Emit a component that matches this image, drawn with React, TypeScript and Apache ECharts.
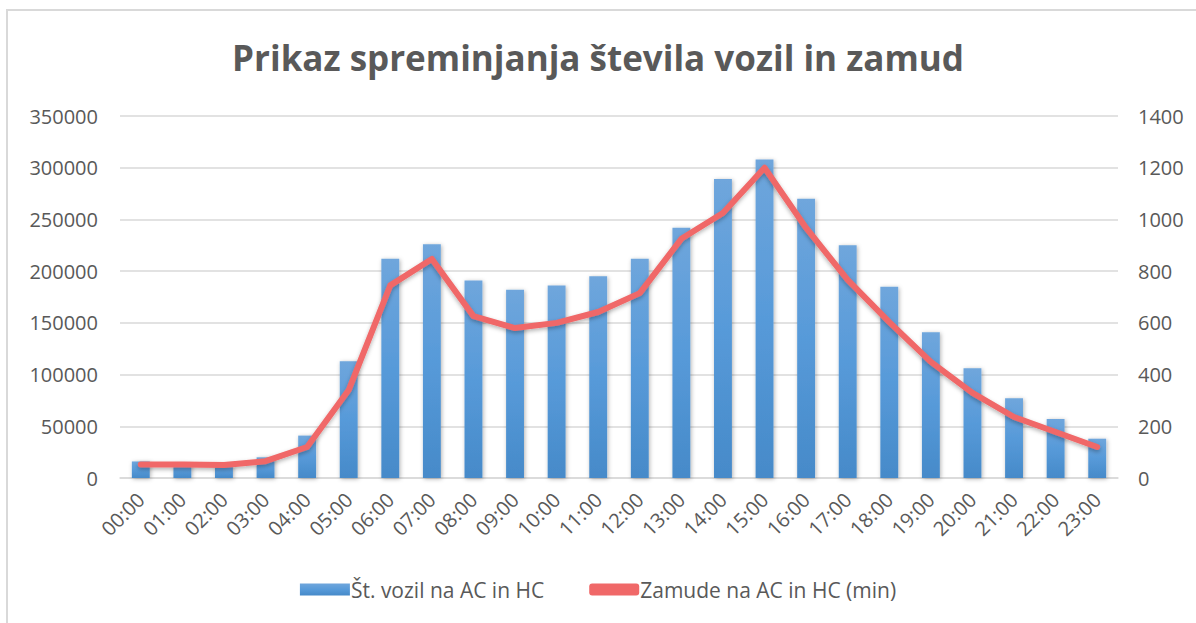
import React, { useEffect, useRef } from "react";
import * as echarts from "echarts";

const hours = ["00:00","01:00","02:00","03:00","04:00","05:00","06:00","07:00","08:00","09:00","10:00","11:00","12:00","13:00","14:00","15:00","16:00","17:00","18:00","19:00","20:00","21:00","22:00","23:00"];
const vehicles = [16000,14000,13000,20000,41000,113000,212000,226000,191000,182000,186000,195000,212000,242000,289000,308000,270000,225000,185000,141000,106000,77000,57000,38000];
const delays = [52,52,50,65,120,340,745,847,626,580,600,642,715,925,1025,1200,967,766,603,449,329,236,178,120];

const titleText = "Prikaz spreminjanja števila vozil in zamud";
const barName = "Št. vozil na AC in HC";
const lineName = "Zamude na AC in HC (min)";

const FONT = "'Open Sans', 'Noto Sans', sans-serif";
const TXT = "#595959";

export default function App() {
  const ref = useRef<HTMLDivElement>(null);
  useEffect(() => {
    document.body.style.margin = "0";
    const chart = echarts.init(ref.current!, null, { renderer: "svg" });
    chart.setOption({
      animation: false,
      backgroundColor: "#ffffff",
      textStyle: { fontFamily: FONT },
      title: {
        text: titleText,
        left: "center",
        top: 35,
        textStyle: { fontFamily: FONT, fontSize: 35, fontWeight: "bold", color: TXT },
      },
      graphic: [
        {
          type: "rect",
          shape: { x: 7, y: 10, width: 1300, height: 700 },
          style: { fill: "none", stroke: "#d9d9d9", lineWidth: 2 },
          silent: true,
          z: -1,
        },
      ],
      legend: {
        bottom: 18,
        left: "center",
        itemGap: 45,
        itemWidth: 50,
        itemHeight: 12,
        textStyle: { fontFamily: FONT, fontSize: 21, color: TXT, padding: [0, 0, 0, -4] },
        data: [
          { name: barName, icon: "rect" },
          { name: lineName, icon: "roundRect" },
        ],
      },
      grid: { left: 120, right: 78, top: 116, bottom: 145 },
      xAxis: {
        type: "category",
        data: hours,
        axisTick: { show: false },
        axisLine: { lineStyle: { color: "#d9d9d9", width: 1.5 } },
        axisLabel: { rotate: 45, fontSize: 20, color: TXT, fontFamily: FONT, margin: 18 },
      },
      yAxis: [
        {
          type: "value",
          min: 0,
          max: 350000,
          interval: 50000,
          axisLine: { show: false },
          axisTick: { show: false },
          splitLine: { lineStyle: { color: "#d9d9d9", width: 1.5 } },
          axisLabel: { fontSize: 20, color: TXT, fontFamily: FONT, margin: 22, formatter: (v: number) => String(v) },
        },
        {
          type: "value",
          min: 0,
          max: 1400,
          interval: 200,
          position: "right",
          axisLine: { show: false },
          axisTick: { show: false },
          splitLine: { show: false },
          axisLabel: { fontSize: 20, color: TXT, fontFamily: FONT, margin: 20, formatter: (v: number) => String(v) },
        },
      ],
      series: [
        {
          name: barName,
          type: "bar",
          data: vehicles,
          barWidth: "43%",
          yAxisIndex: 0,
          itemStyle: {
            color: new echarts.graphic.LinearGradient(0, 0, 0, 1, [
              { offset: 0, color: "#6fa6dc" },
              { offset: 0.5, color: "#579ad9" },
              { offset: 1, color: "#468ac9" },
            ]),
            shadowBlur: 4,
            shadowColor: "rgba(0,0,0,0.3)",
            shadowOffsetX: 1,
            shadowOffsetY: 1,
          },
        },
        {
          name: lineName,
          type: "line",
          data: delays,
          yAxisIndex: 1,
          symbol: "none",
          smooth: false,
          lineStyle: {
            color: "#f06868",
            width: 6,
            cap: "round",
            join: "round",
            shadowBlur: 4,
            shadowColor: "rgba(0,0,0,0.3)",
            shadowOffsetY: 2,
          },
          itemStyle: { color: "#f06868" },
        },
      ],
    });
    return () => chart.dispose();
  }, []);
  return <div ref={ref} style={{ width: 1196, height: 623 }} />;
}
